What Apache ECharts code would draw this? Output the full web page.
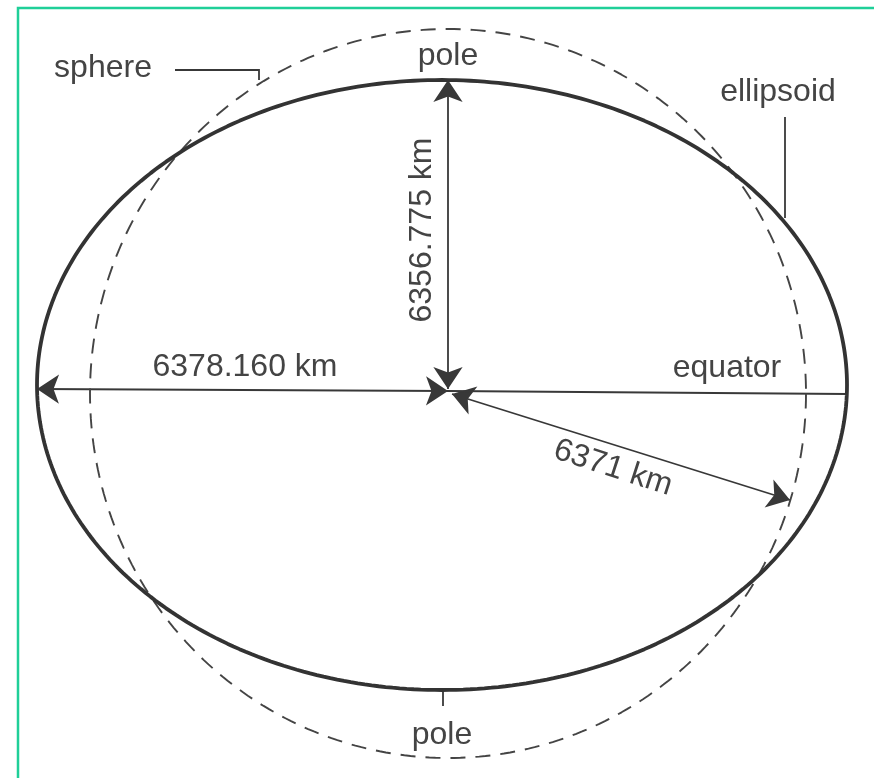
<!DOCTYPE html>
<html>
<head>
<meta charset="utf-8">
<script src="https://cdn.jsdelivr.net/npm/echarts@6/dist/echarts.min.js"></script>
<style>
html,body{margin:0;padding:0;background:#fff;}
#chart{width:874px;height:778px;}
</style>
</head>
<body>
<div id="chart"></div>
<script>
// Diagram geometry (in page-pixel axis units)
const ellipseCenter = [442, 385];
const ellipseRadii = [405, 305];
const sphereCenter = [448, 393.5];
const sphereRadii = [358, 364.5];

// Measurement lines
const polarLine = [[448, 80], [448, 389]];
const equatorLeft = [[37, 389], [448, 391]];
const equatorRight = [[448, 391], [847, 394]];
const sphereRadiusLine = [[452, 394], [790, 500]];

// Leader lines
const sphereLeader = [[175, 70], [259, 70], [259, 80]];
const ellipsoidLeader = [[785, 117], [785, 218]];
const poleLeader = [[443, 690], [443, 706]];

// Texts
const radiusLabels = ['6378.160 km', '6356.775 km', '6371 km'];
const partLabels = ['sphere', 'ellipsoid', 'pole', 'pole', 'equator'];

function ring(center, radii) {
  const pts = [];
  for (let i = 0; i <= 360; i++) {
    const t = i * Math.PI / 180;
    pts.push([center[0] + radii[0] * Math.cos(t), center[1] + radii[1] * Math.sin(t)]);
  }
  return pts;
}

const chart = echarts.init(document.getElementById('chart'), null, {renderer: 'canvas'});
const FONT = '32px "Liberation Sans", Arial, sans-serif';
const TXT = '#444444';
const LINE = '#383838';

function txt(text, x, y, rot) {
  return {
    type: 'text', x: x, y: y, rotation: rot || 0, z: 10,
    style: {text: text, font: FONT, fill: TXT, align: 'center', verticalAlign: 'middle'}
  };
}

chart.setOption({
  animation: false,
  backgroundColor: '#ffffff',
  grid: {left: 0, right: 0, top: 0, bottom: 0},
  xAxis: {type: 'value', min: 0, max: 874, show: false},
  yAxis: {type: 'value', min: 0, max: 778, inverse: true, show: false},
  series: [
    {
      type: 'line', data: ring(sphereCenter, sphereRadii), showSymbol: false, symbol: 'none',
      clip: false, lineStyle: {color: '#444444', width: 1.9, type: [15, 10]}
    },
    {
      type: 'line', data: ring(ellipseCenter, ellipseRadii), showSymbol: false, symbol: 'none',
      clip: false, lineStyle: {color: '#333333', width: 3.8}
    },
    {
      type: 'lines', coordinateSystem: 'cartesian2d', symbol: ['arrow', 'arrow'], symbolSize: 22,
      lineStyle: {color: LINE, width: 1.8, opacity: 1}, itemStyle: {color: LINE},
      data: [{coords: polarLine}, {coords: equatorLeft}, {coords: sphereRadiusLine}]
    },
    {
      type: 'lines', coordinateSystem: 'cartesian2d', symbol: 'none', polyline: true,
      lineStyle: {color: LINE, width: 1.8, opacity: 1},
      data: [{coords: equatorRight}, {coords: sphereLeader}, {coords: ellipsoidLeader}, {coords: poleLeader}]
    }
  ],
  graphic: [
    {type: 'polyline', z: 20, shape: {points: [[18, 778], [18, 8], [874, 8]]},
     style: {stroke: '#1fcf98', lineWidth: 2.5, fill: null}},
    txt(partLabels[0], 103, 68),
    txt(partLabels[1], 778, 92),
    txt(partLabels[2], 448, 56),
    txt(partLabels[3], 442, 735),
    txt(partLabels[4], 727, 368),
    txt(radiusLabels[0], 245, 367),
    txt(radiusLabels[1], 422, 230, Math.PI / 2),
    txt(radiusLabels[2], 613, 468, -18 * Math.PI / 180)
  ]
});
</script>
</body>
</html>
